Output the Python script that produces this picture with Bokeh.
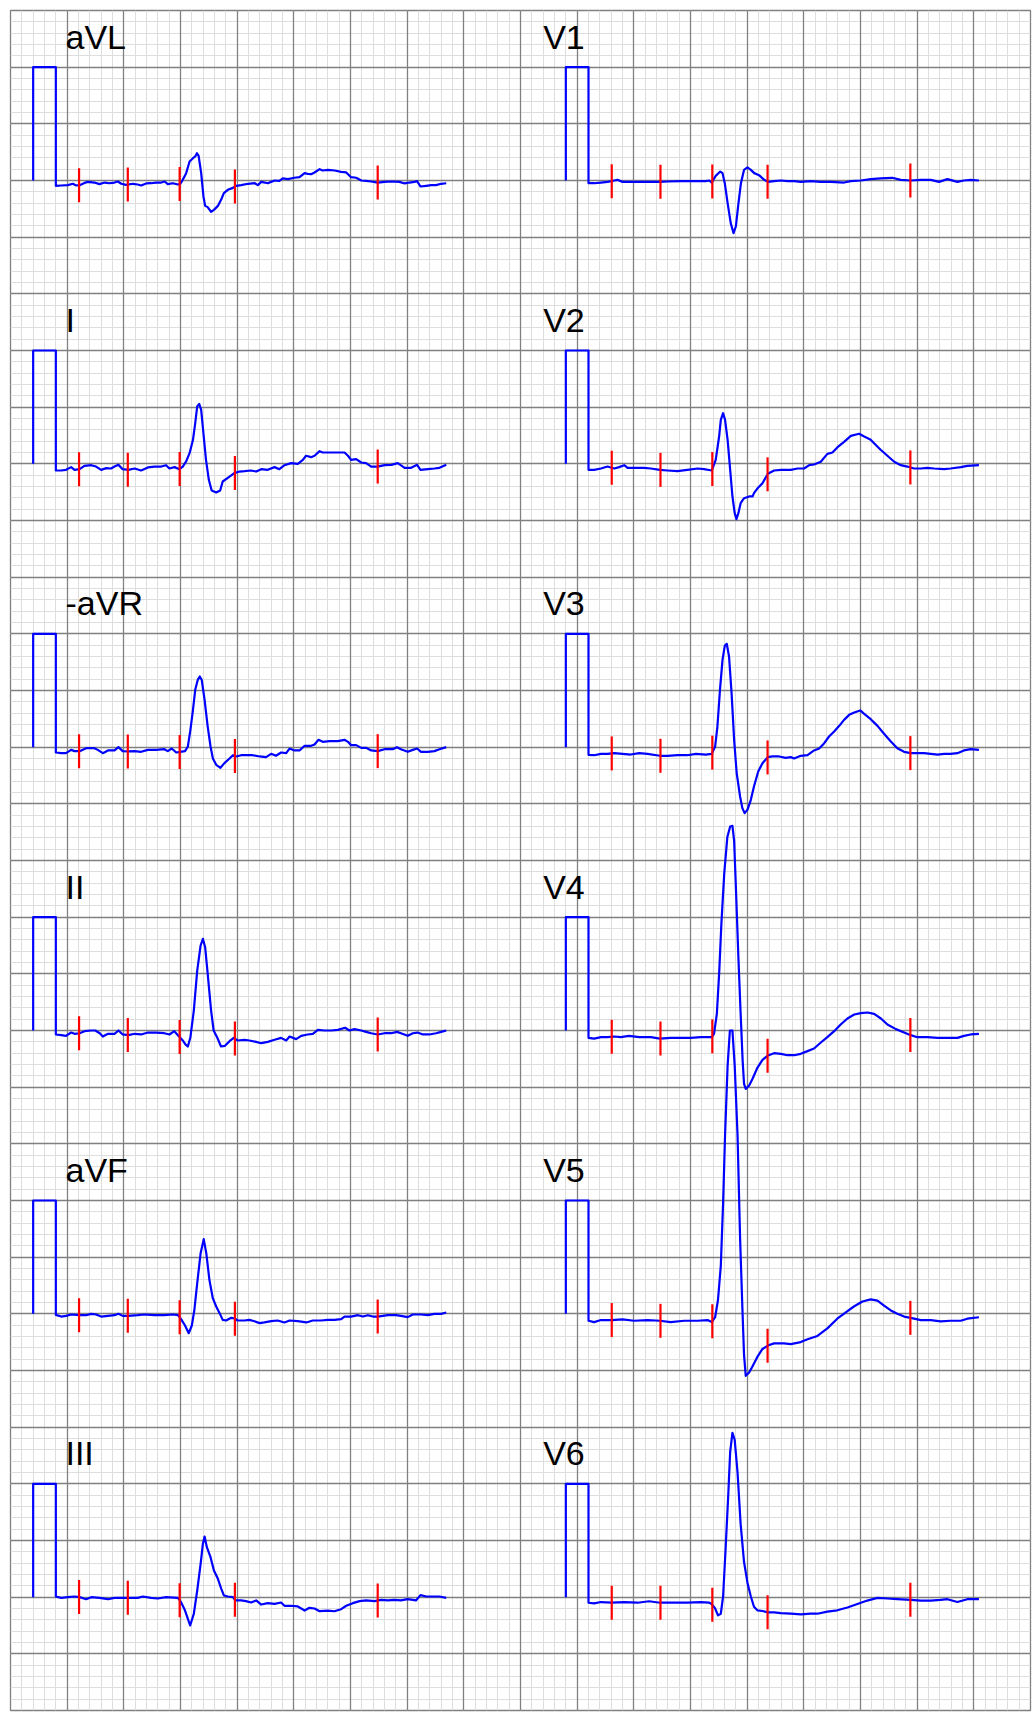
import numpy as np
from bokeh.plotting import figure
from bokeh.models import Grid, FixedTicker, Range1d
from bokeh.core.properties import value
from bokeh.embed import file_html
from bokeh.resources import INLINE

# ---- paper settings ----
SPEED = 25.0   # mm per second
GAIN = 10.0    # mm per mV
PAPER_W, PAPER_H = 90, 150  # mm

# ---- leads (time in ms from trace start, amplitude in mV) ----
left_leads = ["aVL", "I", "-aVR", "II", "aVF", "III"]
right_leads = ["V1", "V2", "V3", "V4", "V5", "V6"]

avl = [(0,-0.047),(19,-0.044),(42,-0.041),(60,-0.029),(72,-0.044),(84,-0.041),(101,-0.021),(113,-0.012),(136,-0.018),(154,-0.032),
       (172,-0.018),(189,-0.024),(207,-0.018),(219,-0.009),(231,-0.029),(248,-0.038),(272,-0.029),(289,-0.035),(301,-0.044),(319,-0.026),
       (336,-0.024),(354,-0.018),(372,-0.018),(384,-0.009),(395,-0.032),(413,-0.024),(431,-0.035),(439,-0.029),(448,0.006),(460,0.065),
       (472,0.168),(484,0.197),(492,0.212),(498,0.241),(504,0.218),(513,0.065),(521,-0.141),(527,-0.224),(536,-0.235),(548,-0.276),
       (558,-0.259),(572,-0.224),(584,-0.165),(593,-0.112),(607,-0.082),(625,-0.065),(636,-0.047),(654,-0.041),(678,-0.029),(702,-0.024),
       (713,-0.041),(725,-0.012),(749,-0.024),(760,-0.012),(772,0.0),(789,-0.003),(801,0.018),(819,0.012),(842,0.024),(860,0.029),
       (878,0.065),(889,0.059),(901,0.056),(913,0.071),(931,0.1),(942,0.088),(960,0.094),(984,0.088),(1007,0.076),(1025,0.071),
       (1042,0.029),(1060,0.024),(1078,0.0),(1095,-0.003),(1113,-0.009),(1136,-0.018),(1160,-0.012),(1184,-0.009),(1213,-0.012),(1231,-0.026),
       (1248,-0.018),(1266,-0.012),(1275,-0.006),(1287,-0.053),(1307,-0.047),(1325,-0.041),(1342,-0.041),(1360,-0.029),(1378,-0.024)]

lead_i = [(0,-0.059),(19,-0.059),(36,-0.053),(54,-0.029),(66,-0.053),(84,-0.047),(101,-0.018),(125,-0.012),(142,-0.024),(160,-0.053),
          (178,-0.038),(195,-0.041),(207,-0.024),(221,-0.009),(236,-0.047),(256,-0.053),(278,-0.041),(301,-0.059),(325,-0.032),(348,-0.024),
          (372,-0.024),(389,-0.012),(401,-0.041),(419,-0.029),(436,-0.047),(448,-0.024),(460,0.021),(472,0.094),(484,0.212),(492,0.359),
          (499,0.506),(506,0.529),(513,0.476),(522,0.241),(530,0.035),(540,-0.141),(550,-0.235),(566,-0.253),(580,-0.235),(589,-0.156),
          (607,-0.124),(630,-0.082),(648,-0.068),(666,-0.065),(689,-0.059),(707,-0.068),(725,-0.047),(748,-0.053),(772,-0.029),(789,-0.047),
          (807,-0.012),(830,0.006),(854,0.0),(872,0.035),(883,0.071),(901,0.059),(913,0.071),(931,0.112),(942,0.1),(966,0.1),
          (995,0.1),(1019,0.1),(1031,0.071),(1042,0.035),(1060,0.041),(1078,0.012),(1095,0.006),(1113,-0.024),(1136,-0.024),(1160,-0.012),
          (1184,-0.009),(1207,0.006),(1231,-0.035),(1254,-0.035),(1275,-0.009),(1287,-0.053),(1313,-0.047),(1336,-0.041),(1354,-0.035),(1378,-0.009)]

neg_avr = [(0,-0.047),(19,-0.053),(36,-0.053),(54,-0.024),(66,-0.035),(84,-0.035),(107,-0.009),(136,-0.009),(148,-0.024),(166,-0.053),
           (184,-0.029),(207,-0.029),(221,0.0),(236,-0.035),(256,-0.038),(278,-0.035),(301,-0.041),(325,-0.024),(354,-0.024),(383,-0.018),
           (395,-0.035),(409,-0.012),(425,-0.047),(439,-0.041),(456,-0.035),(466,0.006),(475,0.153),(484,0.329),(492,0.506),(501,0.594),
           (508,0.624),(515,0.594),(525,0.418),(536,0.182),(546,0.006),(554,-0.097),(566,-0.156),(581,-0.182),(595,-0.141),(613,-0.1),
           (625,-0.071),(636,-0.082),(654,-0.071),(678,-0.071),(695,-0.071),(719,-0.082),(742,-0.088),(760,-0.059),(777,-0.076),(795,-0.047),
           (813,-0.053),(825,-0.012),(842,-0.029),(860,-0.029),(878,0.012),(901,0.012),(913,0.024),(927,0.065),(942,0.047),(966,0.053),
           (995,0.053),(1019,0.065),(1031,0.047),(1042,0.018),(1060,0.018),(1078,-0.006),(1095,-0.006),(1113,-0.029),(1136,-0.035),(1160,-0.018),
           (1189,-0.018),(1204,0.0),(1218,-0.018),(1242,-0.041),(1260,-0.024),(1275,-0.012),(1289,-0.041),(1313,-0.041),(1336,-0.035),(1354,-0.018),
           (1378,0.0)]

lead_ii = [(0,-0.035),(19,-0.041),(36,-0.047),(54,-0.018),(66,-0.029),(84,-0.024),(101,-0.006),(125,0.0),(139,0.0),(155,-0.024),
           (166,-0.053),(184,-0.029),(207,-0.029),(221,0.0),(236,-0.035),(256,-0.041),(278,-0.029),(301,-0.035),(325,-0.018),(354,-0.018),
           (383,-0.024),(401,-0.035),(418,-0.006),(431,-0.041),(448,-0.088),(458,-0.124),(466,-0.141),(475,-0.059),(487,0.176),(499,0.529),
           (511,0.75),(519,0.809),(527,0.735),(536,0.5),(548,0.176),(557,0.0),(569,-0.059),(583,-0.141),(597,-0.135),(613,-0.094),
           (628,-0.065),(642,-0.088),(666,-0.082),(683,-0.088),(707,-0.1),(725,-0.112),(748,-0.1),(772,-0.082),(795,-0.065),(813,-0.088),
           (825,-0.053),(848,-0.076),(866,-0.047),(889,-0.035),(907,-0.029),(925,0.006),(948,0.0),(972,0.0),(995,0.006),(1021,0.024),
           (1036,0.0),(1054,0.012),(1078,0.0),(1095,-0.012),(1113,-0.024),(1136,-0.035),(1160,-0.024),(1184,-0.024),(1204,-0.012),(1218,-0.024),
           (1242,-0.047),(1260,-0.024),(1277,-0.018),(1295,-0.035),(1318,-0.035),(1342,-0.024),(1360,-0.012),(1378,0.0)]

avf = [(0,-0.009),(19,-0.024),(36,-0.018),(54,-0.006),(84,-0.012),(107,-0.012),(125,0.0),(142,-0.006),(160,-0.024),(184,-0.018),
       (207,-0.012),(221,0.0),(236,-0.018),(256,-0.018),(289,-0.012),(313,-0.006),(348,-0.012),(383,-0.012),(413,-0.006),(431,-0.012),
       (442,-0.047),(456,-0.103),(469,-0.171),(480,-0.103),(489,0.035),(499,0.271),(511,0.535),(522,0.659),(531,0.535),(542,0.3),
       (554,0.138),(566,0.065),(578,0.006),(589,-0.053),(601,-0.059),(619,-0.035),(631,-0.041),(642,-0.059),(666,-0.059),(683,-0.053),
       (701,-0.065),(719,-0.082),(736,-0.076),(760,-0.065),(783,-0.059),(807,-0.076),(825,-0.059),(854,-0.065),(884,-0.076),(907,-0.059),
       (936,-0.059),(960,-0.053),(983,-0.053),(1007,-0.047),(1019,-0.024),(1042,-0.024),(1066,-0.012),(1084,-0.024),(1101,-0.012),(1119,-0.024),
       (1136,-0.024),(1172,-0.012),(1201,-0.012),(1218,-0.018),(1242,-0.029),(1260,-0.006),(1289,-0.006),(1313,-0.012),(1336,0.0),(1360,0.0),
       (1378,0.012)]

lead_iii = [(0,0.006),(19,-0.006),(42,0.0),(66,0.006),(84,0.0),(107,-0.018),(125,0.0),(154,-0.006),(184,-0.018),(207,-0.006),
            (236,-0.006),(256,-0.006),(289,-0.006),(307,0.006),(336,-0.006),(360,-0.012),(389,0.0),(431,-0.006),(442,-0.044),(456,-0.118),
            (466,-0.191),(474,-0.25),(487,-0.147),(499,0.059),(511,0.294),(519,0.471),(525,0.535),(533,0.441),(546,0.353),(558,0.235),
            (572,0.162),(584,0.074),(593,0.015),(607,0.006),(625,0.0),(634,-0.029),(654,-0.029),(671,-0.035),(689,-0.047),(707,-0.029),
            (725,-0.065),(748,-0.053),(772,-0.059),(795,-0.047),(807,-0.076),(830,-0.076),(854,-0.082),(878,-0.118),(895,-0.094),(913,-0.1),
            (931,-0.124),(960,-0.118),(983,-0.124),(1007,-0.106),(1025,-0.076),(1048,-0.053),(1072,-0.035),(1095,-0.029),(1125,-0.035),(1148,-0.024),
            (1172,-0.029),(1195,-0.024),(1218,-0.029),(1242,-0.018),(1260,-0.024),(1271,-0.029),(1287,0.018),(1307,0.006),(1331,0.006),(1354,0.006),
            (1378,-0.006)]

v1 = [(0,-0.024),(20,-0.024),(44,-0.018),(67,-0.012),(82,-0.006),(91,0.0),(102,0.006),(120,-0.012),(149,-0.012),(179,-0.012),
      (208,-0.012),(252,-0.012),(279,-0.009),(326,-0.006),(373,-0.006),(414,-0.006),(426,0.0),(435,-0.018),(449,0.041),(465,0.079),
      (473,0.065),(481,-0.024),(491,-0.2),(502,-0.376),(512,-0.465),(520,-0.406),(528,-0.229),(538,-0.024),(549,0.094),(561,0.115),
      (573,0.094),(585,0.065),(602,0.047),(620,0.006),(633,-0.012),(655,-0.006),(679,0.0),(702,-0.006),(726,-0.006),(749,-0.012),
      (784,-0.006),(820,-0.012),(855,-0.012),(902,-0.018),(926,-0.006),(961,0.0),(996,0.012),(1031,0.018),(1072,0.024),(1102,0.006),
      (1137,0.0),(1173,0.006),(1208,0.006),(1237,-0.012),(1267,0.012),(1302,-0.012),(1325,0.0),(1349,0.006),(1378,0.0)]

v2 = [(0,-0.053),(20,-0.053),(44,-0.041),(67,-0.024),(91,-0.041),(108,-0.029),(126,-0.012),(138,-0.035),(167,-0.035),(196,-0.035),
      (220,-0.041),(252,-0.053),(279,-0.059),(314,-0.065),(349,-0.053),(385,-0.041),(408,-0.047),(435,-0.059),(449,0.035),(461,0.241),
      (467,0.388),(475,0.447),(482,0.388),(491,0.212),(500,-0.053),(508,-0.288),(516,-0.435),(522,-0.488),(529,-0.435),(537,-0.347),
      (549,-0.303),(567,-0.288),(579,-0.288),(584,-0.259),(596,-0.218),(614,-0.171),(633,-0.088),(655,-0.059),(679,-0.053),(714,-0.053),
      (738,-0.041),(761,-0.041),(779,-0.012),(796,-0.006),(820,0.018),(843,0.088),(861,0.1),(879,0.147),(902,0.194),(926,0.247),
      (955,0.265),(973,0.241),(996,0.212),(1008,0.182),(1031,0.124),(1055,0.071),(1079,0.018),(1102,-0.012),(1125,-0.024),(1149,-0.041),
      (1173,-0.041),(1196,-0.035),(1220,-0.041),(1255,-0.047),(1278,-0.041),(1314,-0.029),(1337,-0.018),(1378,-0.012)]

v3 = [(0,-0.068),(20,-0.071),(44,-0.059),(67,-0.059),(91,-0.053),(120,-0.059),(149,-0.065),(179,-0.053),(208,-0.059),(252,-0.076),
      (279,-0.076),(314,-0.071),(349,-0.071),(379,-0.059),(414,-0.065),(435,-0.059),(447,0.006),(455,0.182),(464,0.506),(473,0.771),
      (481,0.894),(488,0.912),(496,0.8),(505,0.476),(514,0.065),(523,-0.229),(535,-0.435),(543,-0.538),(551,-0.582),(561,-0.553),
      (573,-0.465),(584,-0.347),(599,-0.215),(614,-0.141),(633,-0.088),(649,-0.082),(673,-0.082),(696,-0.094),(714,-0.088),(726,-0.1),
      (749,-0.076),(773,-0.071),(796,-0.029),(814,-0.012),(832,0.035),(849,0.094),(867,0.138),(885,0.188),(902,0.241),(920,0.285),
      (938,0.306),(959,0.324),(973,0.294),(996,0.247),(1020,0.188),(1043,0.118),(1067,0.05),(1090,-0.009),(1114,-0.041),(1137,-0.053),
      (1161,-0.053),(1184,-0.053),(1208,-0.059),(1232,-0.065),(1255,-0.059),(1278,-0.059),(1302,-0.053),(1325,-0.029),(1349,-0.018),(1378,-0.024)]

v4 = [(0,-0.065),(20,-0.071),(44,-0.059),(67,-0.059),(91,-0.053),(114,-0.059),(143,-0.047),(179,-0.059),(220,-0.059),(252,-0.071),
      (290,-0.065),(326,-0.065),(361,-0.065),(396,-0.059),(435,-0.059),(443,-0.029),(453,0.147),(461,0.5),(469,0.941),(479,1.382),
      (490,1.706),(500,1.8),(508,1.806),(514,1.676),(521,1.206),(529,0.647),(536,0.206),(544,-0.265),(549,-0.471),(555,-0.515),
      (567,-0.485),(579,-0.426),(596,-0.329),(614,-0.259),(633,-0.221),(655,-0.2),(679,-0.206),(702,-0.218),(726,-0.218),(749,-0.206),
      (773,-0.182),(796,-0.159),(820,-0.106),(843,-0.059),(867,-0.006),(890,0.053),(914,0.106),(938,0.141),(961,0.153),(985,0.159),
      (1008,0.147),(1032,0.106),(1055,0.053),(1085,0.012),(1114,-0.018),(1137,-0.041),(1161,-0.059),(1196,-0.059),(1232,-0.065),(1267,-0.065),
      (1302,-0.065),(1325,-0.047),(1349,-0.035),(1378,-0.029)]

v5 = [(0,-0.061),(20,-0.073),(44,-0.055),(82,-0.055),(120,-0.049),(161,-0.061),(208,-0.055),(252,-0.061),(290,-0.073),(338,-0.061),
      (385,-0.061),(420,-0.055),(435,-0.073),(447,-0.03),(457,0.122),(467,0.426),(475,0.973),(482,1.58),(491,2.19),(499,2.5),
      (508,2.5),(516,2.19),(526,1.58),(535,0.669),(543,0.061),(549,-0.365),(555,-0.547),(567,-0.517),(579,-0.462),(596,-0.38),
      (614,-0.31),(633,-0.28),(655,-0.261),(690,-0.261),(714,-0.267),(749,-0.249),(773,-0.225),(808,-0.195),(843,-0.128),(878,-0.043),
      (914,0.024),(938,0.067),(967,0.109),(996,0.128),(1020,0.116),(1043,0.073),(1067,0.03),(1090,0.0),(1114,-0.024),(1137,-0.036),
      (1173,-0.055),(1208,-0.055),(1243,-0.067),(1278,-0.061),(1314,-0.061),(1337,-0.043),(1378,-0.03)]

v6 = [(0,-0.049),(20,-0.055),(44,-0.043),(82,-0.049),(126,-0.043),(173,-0.049),(214,-0.036),(252,-0.049),(302,-0.049),(349,-0.049),
      (396,-0.043),(426,-0.049),(435,-0.061),(447,-0.1),(457,-0.161),(467,-0.146),(475,0.006),(484,0.432),(493,0.888),(500,1.283),
      (508,1.45),(516,1.389),(526,1.1),(537,0.644),(549,0.31),(561,0.128),(573,0.006),(584,-0.085),(596,-0.116),(614,-0.122),
      (633,-0.134),(655,-0.134),(679,-0.14),(714,-0.146),(749,-0.152),(784,-0.146),(808,-0.146),(843,-0.128),(878,-0.116),(914,-0.091),
      (949,-0.061),(984,-0.03),(1020,-0.006),(1055,-0.012),(1090,-0.018),(1137,-0.024),(1173,-0.03),(1208,-0.03),(1243,-0.024),(1267,-0.018),
      (1302,-0.043),(1337,-0.018),(1378,-0.018)]

# fiducial marker times (ms from trace start)
marker_ms = [82, 254, 437, 632, 1136]

left_data = [avl, lead_i, neg_avr, lead_ii, avf, lead_iii]
right_data = [v1, v2, v3, v4, v5, v6]

# ---- layout (paper mm) ----
CAL_X = [2.0, 49.0]          # calibration pulse start per column
LABEL_X = [4.85, 47.0]       # label left per column
CAL_W = 2.0                  # mm
CAL_H = 1.0                  # mV
MARK_HALF = 1.5              # mm
LABEL_DY = 12.7              # mm above baseline

p = figure(width=1033, height=1714, x_range=Range1d(0, PAPER_W), y_range=Range1d(0, PAPER_H),
           x_axis_type=None, y_axis_type=None, output_backend="svg", toolbar_location=None,
           min_border_left=10, min_border_right=3, min_border_top=10, min_border_bottom=4,
           background_fill_color="white", border_fill_color="white")
p.outline_line_color = "#808080"
p.outline_line_width = 1.3

for dim, n in ((0, PAPER_W), (1, PAPER_H)):
    p.add_layout(Grid(dimension=dim, ticker=FixedTicker(ticks=list(range(0, n + 1))),
                      grid_line_color="#dedede", grid_line_width=1))
for dim, n in ((0, PAPER_W), (1, PAPER_H)):
    p.add_layout(Grid(dimension=dim, ticker=FixedTicker(ticks=list(range(0, n + 1, 5))),
                      grid_line_color="#808080", grid_line_width=1.3))

lab_x, lab_y, lab_t = [], [], []
mk_x, mk_y0, mk_y1 = [], [], []
for col, (names, datas) in enumerate(((left_leads, left_data), (right_leads, right_data))):
    for row, (name, d) in enumerate(zip(names, datas)):
        base = PAPER_H - 15 - 25 * row
        arr = np.array(d, dtype=float)
        t_s = arr[:, 0] / 1000.0
        mv = arr[:, 1]
        x0 = CAL_X[col] + CAL_W
        xs = [CAL_X[col], CAL_X[col], x0] + list(x0 + SPEED * t_s)
        ys = [base, base + GAIN * CAL_H, base + GAIN * CAL_H] + list(base + GAIN * mv)
        p.line(xs, ys, line_color="#0000ff", line_width=2.2, line_join="round")
        mt = np.array(marker_ms) / 1000.0
        mval = np.interp(mt, t_s, mv)
        for tt, vv in zip(mt, mval):
            mk_x.append(x0 + SPEED * tt)
            mk_y0.append(base + GAIN * vv - MARK_HALF)
            mk_y1.append(base + GAIN * vv + MARK_HALF)
        lab_x.append(LABEL_X[col])
        lab_y.append(base + LABEL_DY)
        lab_t.append(name)

p.segment(x0=mk_x, y0=mk_y0, x1=mk_x, y1=mk_y1, line_color="#ff0000", line_width=2.2)
p.text(x=lab_x, y=lab_y, text=lab_t, text_font=value("Liberation Sans"),
       text_font_size=value("34px"), text_color="black", text_baseline="alphabetic", text_align="left")

open("out.html", "w").write(file_html(p, INLINE))
